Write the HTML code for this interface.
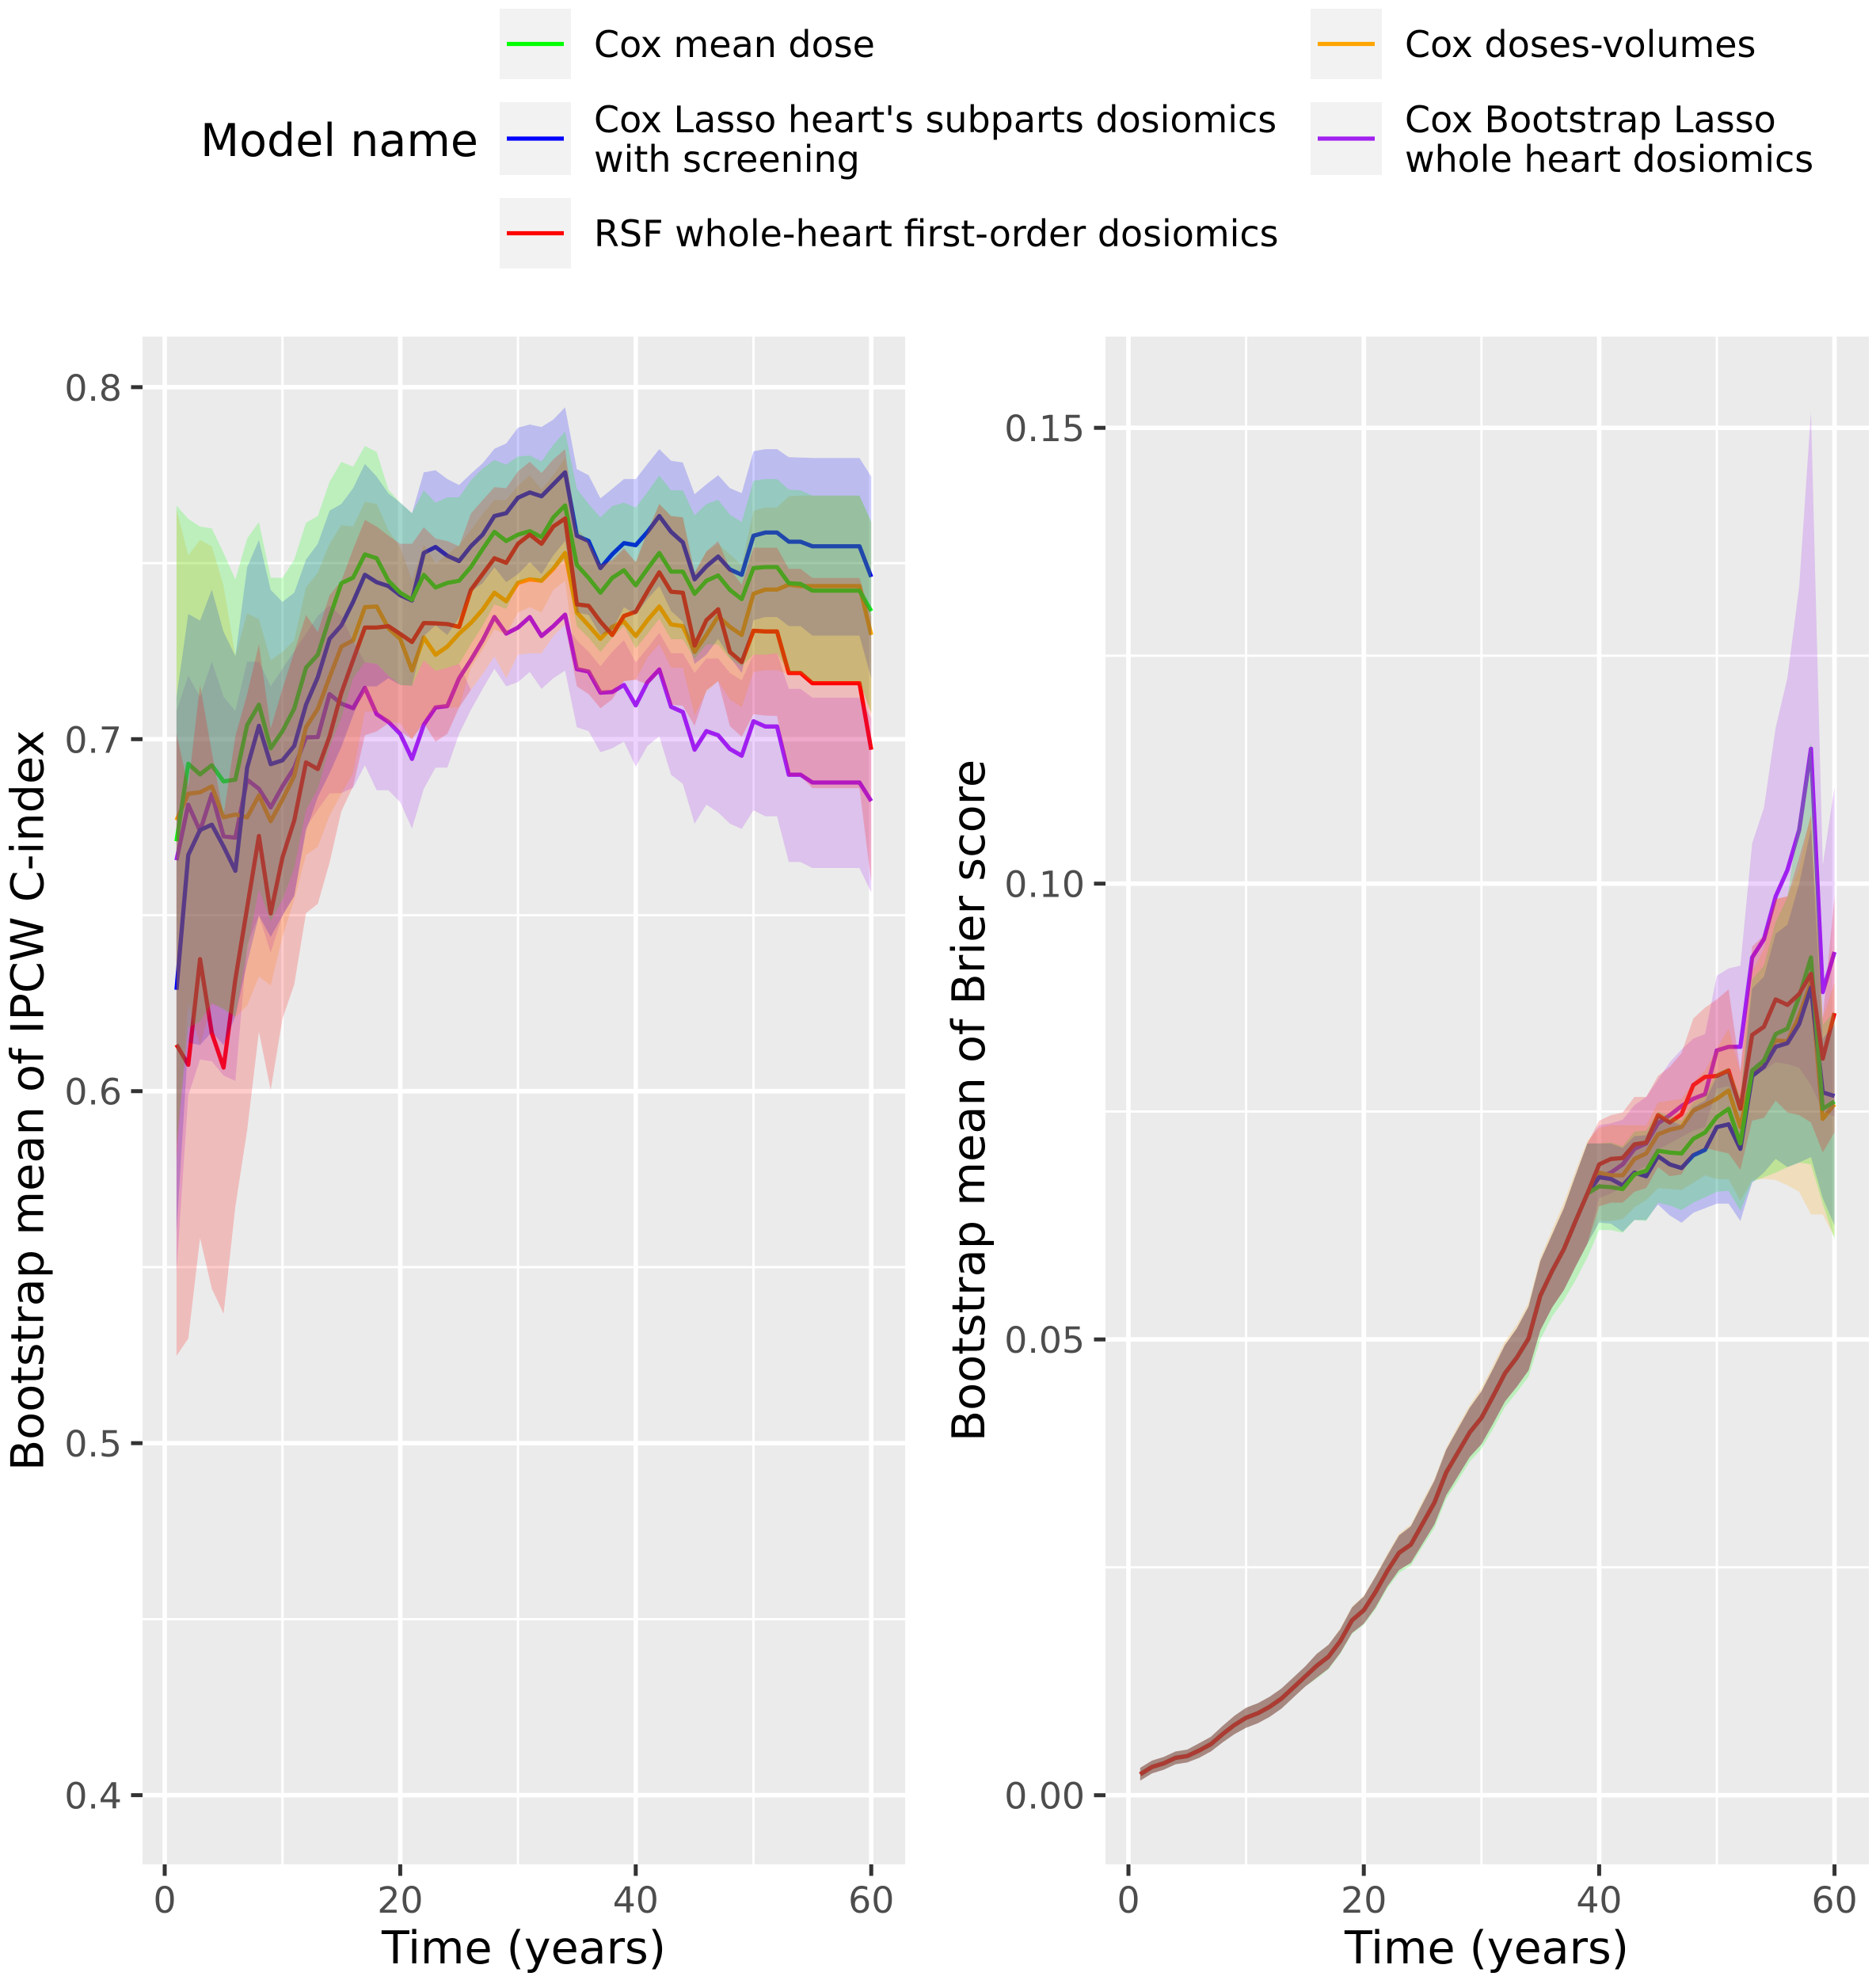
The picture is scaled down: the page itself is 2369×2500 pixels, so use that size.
<!DOCTYPE html>
<html lang="en">
<head>
<meta charset="utf-8">
<title>Bootstrap mean of IPCW C-index and Brier score</title>
<style>
html,body{margin:0;padding:0;background:#fff;width:2369px;height:2500px;overflow:hidden}
svg{display:block;font-family:"DejaVu Sans",sans-serif}
.lg{font-size:45.95px;fill:#000}
.at{font-size:57px;fill:#000}
.yt{font-size:57.3px;fill:#000}
.tk{font-size:45.7px;fill:#4d4d4d}
</style>
</head>
<body>
<svg id="figure" xmlns="http://www.w3.org/2000/svg" width="2369" height="2500" viewBox="0 0 2369 2500">
<rect width="2369" height="2500" fill="#fff"/>
<g>
<text class="lg" x="253" y="197" style="font-size:57px">Model name</text>
<g>
<rect x="631" y="11" width="90" height="89" fill="#f2f2f2"/>
<line x1="640" x2="712" y1="55.5" y2="55.5" stroke="#00ff00" stroke-width="5.3"/>
<text class="lg" x="750" y="72">Cox mean dose</text>
</g>
<g>
<rect x="631" y="129" width="90" height="92" fill="#f2f2f2"/>
<line x1="640" x2="712" y1="175" y2="175" stroke="#0000ff" stroke-width="5.3"/>
<text class="lg" x="750" y="167">Cox Lasso heart's subparts dosiomics</text>
<text class="lg" x="750" y="217">with screening</text>
</g>
<g>
<rect x="631" y="250" width="90" height="89" fill="#f2f2f2"/>
<line x1="640" x2="712" y1="294.5" y2="294.5" stroke="#ff0000" stroke-width="5.3"/>
<text class="lg" x="750" y="311">RSF whole-heart first-order dosiomics</text>
</g>
<g>
<rect x="1655" y="11" width="90" height="89" fill="#f2f2f2"/>
<line x1="1664" x2="1736" y1="55.5" y2="55.5" stroke="#ffa500" stroke-width="5.3"/>
<text class="lg" x="1774" y="72">Cox doses-volumes</text>
</g>
<g>
<rect x="1655" y="129" width="90" height="92" fill="#f2f2f2"/>
<line x1="1664" x2="1736" y1="175" y2="175" stroke="#a020f0" stroke-width="5.3"/>
<text class="lg" x="1774" y="167">Cox Bootstrap Lasso</text>
<text class="lg" x="1774" y="217">whole heart dosiomics</text>
</g>
</g>
<text class="yt" transform="translate(54.5,1389.5) rotate(-90)" text-anchor="middle">Bootstrap mean of IPCW C-index</text>
<text class="yt" transform="translate(1243,1389.5) rotate(-90)" text-anchor="middle">Bootstrap mean of Brier score</text>
<text class="at" x="661.5" y="2479" text-anchor="middle">Time (years)</text>
<text class="at" x="1877.5" y="2479" text-anchor="middle">Time (years)</text>
<g id="left-chart"></g>
<g id="right-chart"></g>
</svg>
<script>
// ---- shared axis data ----
const years = [1,2,3,4,5,6,7,8,9,10,11,12,13,14,15,16,17,18,19,20,21,22,23,24,25,26,27,28,29,30,31,32,33,34,35,36,37,38,39,40,41,42,43,44,45,46,47,48,49,50,51,52,53,54,55,56,57,58,59,60];
const xTicks = [0,20,40,60];
const xMinorTicks = [10,30,50];
const cindexTicks = [0.4,0.5,0.6,0.7,0.8];
const cindexTickLabels = ["0.4","0.5","0.6","0.7","0.8"];
const cindexMinorTicks = [0.45,0.55,0.65,0.75];
const brierTicks = [0,0.05,0.1,0.15];
const brierTickLabels = ["0.00","0.05","0.10","0.15"];
const brierMinorTicks = [0.025,0.075,0.125];

// ---- C-index means ----
const cindexGreen = [.671,.693,.690,.6926,.688,.6885,.704,.7098,.6974,.7023,.7087,.7203,.724,.7345,.7443,.7459,.7525,.7514,.745,.7416,.7396,.7467,.7431,.7444,.745,.7489,.754,.7589,.7563,.7581,.7591,.7574,.763,.7664,.7495,.7458,.7416,.7458,.748,.7437,.7484,.7529,.7476,.7476,.7413,.745,.7465,.7424,.7398,.7486,.7489,.7489,.7443,.7441,.7422,.7422,.7422,.7422,.7422,.7364];
const cindexBlue = [.6288,.6671,.6742,.6757,.6695,.6626,.6919,.7038,.6929,.694,.6981,.7098,.7176,.7285,.7323,.739,.7467,.7446,.7435,.7409,.7394,.7529,.7546,.7521,.7506,.7548,.7581,.7634,.7642,.7686,.7701,.769,.7724,.7758,.7578,.7563,.7486,.7525,.7557,.7551,.7589,.7634,.7589,.7559,.7454,.7491,.7519,.7482,.7467,.7578,.7587,.7587,.7561,.7561,.7548,.7548,.7548,.7548,.7548,.7461];
const cindexOrange = [.677,.6845,.6849,.6866,.6778,.6786,.6778,.684,.6767,.6828,.6896,.7034,.7086,.7176,.7263,.7281,.7375,.7377,.7315,.7285,.7195,.7289,.724,.7263,.73,.733,.7368,.7416,.7392,.7444,.7454,.745,.7484,.7529,.736,.7323,.7285,.7319,.7334,.7293,.7338,.7377,.7326,.7321,.7248,.7296,.7349,.7319,.7296,.7413,.7425,.7425,.7439,.7435,.7435,.7435,.7435,.7435,.7435,.7296];
const cindexRed = [.6132,.6075,.6375,.6165,.6067,.6318,.6521,.6725,.6505,.6664,.6769,.6934,.6915,.7008,.7131,.7225,.7317,.7317,.7321,.7299,.7276,.733,.7329,.7327,.7319,.7424,.7469,.7514,.7501,.7555,.7581,.7555,.7604,.7627,.7383,.7379,.7334,.7296,.735,.7362,.742,.7474,.7419,.7416,.7266,.7338,.7369,.7248,.7219,.7308,.7306,.7306,.7188,.7188,.7159,.7159,.7159,.7159,.7159,.697];
const cindexPurple = [.6656,.6814,.6739,.6844,.6724,.672,.6885,.6859,.6806,.6866,.6919,.7005,.7006,.7128,.7101,.7088,.7146,.7071,.7049,.7015,.6944,.7041,.709,.7094,.7173,.7225,.7281,.7347,.73,.7317,.7347,.7293,.7321,.7354,.7199,.7192,.7132,.7134,.7154,.7096,.7162,.7198,.7092,.7077,.697,.7023,.7011,.6972,.6953,.7051,.7036,.7036,.6899,.6899,.6877,.6877,.6877,.6877,.6877,.6824];
// ---- C-index ribbon bounds ----
const cindexGreenUpper = [.7664,.7626,.7604,.7599,.7529,.7454,.757,.7617,.7459,.7458,.751,.7615,.7634,.7731,.7788,.7774,.7833,.7816,.7709,.7672,.7642,.7707,.7672,.7687,.7687,.7735,.7769,.7793,.778,.7803,.7806,.7789,.7836,.7874,.7711,.7668,.763,.7662,.7672,.7658,.7702,.7749,.7707,.7707,.7636,.7668,.768,.7638,.7617,.7734,.7739,.7739,.7709,.7707,.7692,.7692,.7692,.7692,.7692,.7619];
const cindexGreenLower = [.585,.618,.6198,.6251,.6232,.6213,.6401,.6574,.6483,.6544,.6633,.6799,.6859,.6978,.706,.7173,.7218,.7214,.718,.7154,.7152,.7224,.7194,.7203,.7214,.727,.7323,.7383,.737,.7443,.7458,.7443,.748,.751,.7321,.7288,.7247,.7288,.7321,.7258,.7299,.7342,.7284,.7284,.7228,.7269,.7269,.7228,.7207,.724,.724,.7244,.7191,.7191,.7165,.7165,.7165,.7165,.7165,.7075];
const cindexBlueUpper = [.712,.7356,.7337,.7425,.7305,.7236,.7488,.7566,.7424,.739,.7416,.751,.7555,.7649,.7668,.7713,.7782,.7746,.7698,.7672,.7642,.7758,.7764,.7739,.7722,.7754,.7784,.7825,.784,.7885,.7894,.7887,.7908,.7943,.7767,.775,.7684,.7711,.7739,.7739,.7782,.7824,.7791,.7786,.7696,.7724,.775,.7713,.7699,.7818,.7824,.7824,.7801,.78,.7799,.7799,.7799,.7799,.7799,.7746];
const cindexBlueLower = [.56,.6138,.6131,.6168,.6131,.6213,.6363,.6499,.6438,.6499,.6555,.6739,.6836,.6903,.6978,.7068,.715,.715,.7173,.7154,.7152,.7293,.7323,.7296,.7345,.742,.7443,.7488,.7446,.7469,.7503,.7469,.7522,.7563,.736,.7353,.7296,.7308,.7375,.7353,.7398,.7435,.7364,.7334,.7214,.724,.7285,.7233,.7188,.7338,.7347,.7347,.7321,.7321,.7294,.7294,.7294,.7294,.7294,.7173];
const cindexOrangeUpper = [.7653,.7522,.7566,.7548,.7435,.7236,.7357,.7341,.7224,.7248,.7281,.7431,.7473,.7555,.7608,.7604,.7674,.7668,.7593,.7545,.7451,.7553,.7499,.7525,.7551,.7595,.764,.768,.768,.772,.775,.771,.775,.78,.76,.7563,.7495,.7505,.7539,.7503,.7589,.7668,.7634,.763,.7473,.7533,.7555,.7525,.7495,.7649,.7658,.7658,.769,.7692,.7692,.7692,.7692,.7692,.7692,.7615];
const cindexOrangeLower = [.58,.625,.6131,.6248,.6236,.621,.6243,.6326,.63,.6439,.6544,.6671,.6694,.6783,.6844,.6904,.7079,.7079,.7049,.7045,.7,.7053,.709,.709,.709,.7203,.7255,.7312,.7297,.736,.7375,.736,.7424,.745,.7199,.7192,.7132,.714,.7165,.7169,.7232,.727,.7203,.7203,.7068,.7135,.7165,.7113,.709,.7191,.7196,.7196,.7184,.7184,.7161,.7161,.7161,.7161,.7161,.7073];
const cindexRedUpper = [.7015,.6866,.7154,.6963,.6784,.7008,.7128,.727,.703,.7143,.7248,.7353,.7304,.7409,.745,.754,.7623,.7604,.7578,.7555,.7555,.7602,.757,.7563,.7548,.7641,.7679,.7716,.7713,.7761,.7788,.7756,.7795,.7824,.7585,.7563,.7495,.751,.7543,.7503,.7589,.7668,.7634,.763,.7473,.7533,.7563,.7484,.7439,.7544,.7544,.7544,.7484,.7484,.7458,.7458,.7458,.7458,.7458,.7349];
const cindexRedLower = [.5248,.5297,.5583,.5439,.5368,.5672,.5889,.6169,.6003,.6206,.6303,.6506,.6532,.6649,.6795,.6866,.7011,.7022,.7045,.7022,.7,.7045,.6993,.7015,.709,.714,.7185,.7235,.7173,.724,.7244,.7244,.7293,.7326,.715,.7128,.7088,.7113,.7165,.7169,.7155,.7188,.7098,.7095,.7038,.7139,.7165,.7037,.7007,.7071,.7067,.7066,.6895,.6895,.6861,.6861,.6861,.6861,.6861,.6595];
const cindexPurpleUpper = [.708,.718,.712,.722,.712,.708,.722,.722,.715,.72,.725,.73,.735,.738,.735,.728,.7218,.7214,.718,.7154,.7152,.7224,.7194,.7203,.7214,.714,.7185,.7235,.7173,.724,.7244,.7244,.7293,.7326,.7281,.7248,.7207,.7248,.7281,.7218,.7259,.7302,.7244,.7244,.7188,.7229,.7229,.7188,.7167,.724,.724,.7244,.7143,.7143,.7118,.7118,.7118,.7118,.7118,.706];
const cindexPurpleLower = [.5489,.5988,.609,.6085,.6044,.6029,.6416,.6499,.6394,.6499,.6555,.675,.68,.6846,.6847,.6862,.6926,.6855,.6855,.6821,.6746,.6859,.6919,.6919,.7015,.7083,.7143,.72,.715,.7162,.7191,.7143,.7173,.7195,.7034,.7023,.6963,.6974,.6993,.6922,.6981,.7008,.6899,.6873,.676,.6814,.6792,.676,.6745,.6798,.6781,.6781,.6651,.6651,.6634,.6634,.6634,.6634,.6634,.6565];

// ---- Brier score, years 1-39 (series are nearly identical there) ----
const brierEarly = [.0023,.0031,.0035,.0041,.0043,.0049,.0056,.0067,.0077,.0085,.0090,.0097,.0106,.0118,.0130,.0142,.0152,.0169,.0192,.0203,.0223,.0246,.0266,.0275,.0298,.0321,.0354,.0376,.0398,.0414,.0438,.0463,.0480,.0501,.0548,.0575,.0599,.0630,.0660];
const brierEarlyUpper = [.0030,.0038,.0042,.0048,.0050,.0057,.0064,.0076,.0087,.0096,.0101,.0108,.0117,.0129,.0141,.0155,.0165,.0182,.0206,.0218,.0240,.0263,.0285,.0295,.0320,.0345,.0379,.0402,.0425,.0443,.0468,.0494,.0512,.0536,.0586,.0615,.0644,.0680,.0715];
const brierEarlyLower = [.0016,.0024,.0028,.0034,.0036,.0041,.0048,.0058,.0067,.0074,.0079,.0086,.0095,.0107,.0119,.0129,.0139,.0156,.0178,.0188,.0206,.0229,.0247,.0255,.0276,.0297,.0329,.0350,.0371,.0385,.0408,.0432,.0448,.0466,.0510,.0535,.0554,.0580,.0605];
const brierOrangeEarlyUpper = [.0030,.0038,.0042,.0048,.0050,.0057,.0064,.0076,.0087,.0096,.0101,.0108,.0117,.0129,.0141,.0155,.0165,.0183,.0207,.0219,.0241,.0265,.0287,.0297,.0323,.0347,.0381,.0405,.0428,.0447,.0472,.0498,.0516,.0540,.0590,.0620,.0650,.0685,.0718];
const brierGreenEarlyLower = [.0016,.0024,.0028,.0034,.0036,.0041,.0048,.0058,.0067,.0074,.0079,.0086,.0095,.0107,.0119,.0128,.0138,.0155,.0177,.0187,.0204,.0227,.0244,.0252,.0273,.0293,.0325,.0345,.0366,.0380,.0402,.0426,.0442,.0459,.0500,.0525,.0543,.0565,.0590];
// ---- Brier score, years 40-60 ----
const brierGreenLate = [.0668,.0667,.0665,.0681,.0685,.0707,.0705,.0704,.072,.0727,.0744,.0753,.0715,.0795,.0806,.0835,.0841,.0876,.0919,.0753,.0761];
const brierBlueLate = [.0678,.0676,.0669,.0683,.0679,.0701,.0692,.0688,.0702,.0708,.0733,.0736,.0709,.0789,.0799,.0821,.0825,.0846,.0886,.0771,.0767];
const brierOrangeLate = [.0683,.068,.068,.0698,.0704,.0725,.073,.0733,.0751,.0757,.0764,.0773,.0733,.0793,.0805,.0828,.0827,.0855,.0892,.0742,.0758];
const brierRedLate = [.0692,.0698,.0699,.0714,.0716,.0746,.0738,.0747,.0779,.0788,.0789,.0795,.0753,.0834,.0843,.0873,.0867,.0879,.0901,.0808,.0858];
const brierPurpleLate = [.0678,.0683,.0692,.0709,.0715,.0737,.0746,.0756,.0764,.0769,.0817,.0821,.0821,.0919,.0939,.0986,.1015,.1059,.1148,.0881,.0925];
const brierGreenUpperLate = [.0715,.0716,.0712,.0728,.0729,.075,.0745,.074,.076,.0767,.0793,.0798,.0767,.0895,.091,.0958,.0985,.1074,.1156,.0845,.086];
const brierBlueUpperLate = [.0715,.0715,.071,.0723,.0724,.0745,.074,.0735,.0755,.0762,.0788,.0793,.0762,.0885,.0898,.0945,.0955,.1,.106,.083,.0845];
const brierOrangeUpperLate = [.0732,.0735,.0735,.0735,.0735,.076,.0762,.0764,.0782,.0795,.0819,.0841,.0793,.0904,.0928,.0983,.0986,.1017,.1077,.0852,.0892];
const brierRedUpperLate = [.074,.0746,.0749,.0766,.0766,.0789,.0799,.0814,.0852,.0864,.0873,.0884,.0794,.0931,.0943,.0983,.0986,.1029,.1074,.0852,.0986];
const brierPurpleUpperLate = [.0735,.0737,.0741,.0757,.0766,.0785,.0804,.0818,.083,.0835,.0899,.0907,.091,.1044,.1083,.1171,.1226,.1326,.1518,.102,.1106];
const brierGreenLowerLate = [.062,.062,.0617,.0631,.063,.065,.0647,.0642,.065,.0656,.0662,.0663,.0641,.0673,.0678,.0683,.0689,.0694,.0692,.0649,.061];
const brierBlueLowerLate = [.0628,.0627,.0618,.0631,.0631,.0648,.0636,.0628,.0639,.0644,.0649,.0649,.063,.0672,.0683,.0698,.0689,.0694,.07,.0655,.0625];
const brierOrangeLowerLate = [.063,.063,.0632,.0645,.0653,.0666,.0665,.0664,.0672,.068,.0676,.0676,.0652,.0675,.0676,.0675,.0669,.0662,.0637,.0637,.0612];
const brierRedLowerLate = [.0646,.065,.065,.0662,.0666,.0689,.0679,.0681,.0704,.071,.0707,.0704,.0686,.074,.0743,.0762,.0749,.0746,.0738,.0705,.0727];
const brierPurpleLowerLate = [.0655,.066,.0668,.0684,.069,.0708,.0715,.0722,.0729,.0733,.0775,.0778,.0755,.0792,.0795,.0804,.0802,.0798,.0779,.0751,.0744];

const SVGNS = "http://www.w3.org/2000/svg";
const colors = {green:"#00ff00",blue:"#0000ff",orange:"#ffa500",red:"#ff0000",purple:"#a020f0"};
const drawOrder = ["purple","orange","blue","green","red"];

const cindexSeries = {
  green:{mean:cindexGreen,upper:cindexGreenUpper,lower:cindexGreenLower},
  blue:{mean:cindexBlue,upper:cindexBlueUpper,lower:cindexBlueLower},
  orange:{mean:cindexOrange,upper:cindexOrangeUpper,lower:cindexOrangeLower},
  red:{mean:cindexRed,upper:cindexRedUpper,lower:cindexRedLower},
  purple:{mean:cindexPurple,upper:cindexPurpleUpper,lower:cindexPurpleLower}
};
const brierSeries = {
  green:{mean:brierEarly.concat(brierGreenLate),upper:brierEarlyUpper.concat(brierGreenUpperLate),lower:brierGreenEarlyLower.concat(brierGreenLowerLate)},
  blue:{mean:brierEarly.concat(brierBlueLate),upper:brierEarlyUpper.concat(brierBlueUpperLate),lower:brierEarlyLower.concat(brierBlueLowerLate)},
  orange:{mean:brierEarly.concat(brierOrangeLate),upper:brierOrangeEarlyUpper.concat(brierOrangeUpperLate),lower:brierEarlyLower.concat(brierOrangeLowerLate)},
  red:{mean:brierEarly.concat(brierRedLate),upper:brierEarlyUpper.concat(brierRedUpperLate),lower:brierEarlyLower.concat(brierRedLowerLate)},
  purple:{mean:brierEarly.concat(brierPurpleLate),upper:brierEarlyUpper.concat(brierPurpleUpperLate),lower:brierEarlyLower.concat(brierPurpleLowerLate)}
};

function make(parent, tag, attrs){
  const el = document.createElementNS(SVGNS, tag);
  for (const k in attrs) el.setAttribute(k, attrs[k]);
  parent.appendChild(el);
  return el;
}

function drawPanel(cfg){
  const g = document.getElementById(cfg.id);
  const xs = t => cfg.x0 + cfg.xPerUnit * t;
  const ys = v => cfg.y0 - cfg.yPerUnit * (v - cfg.yBase);

  const bg = make(g, "rect", {x:cfg.left, y:cfg.top, width:cfg.right-cfg.left, height:cfg.bottom-cfg.top, fill:"#ebebeb"});
  
  

  cfg.yMinor.forEach(v => {
    const el = make(g, "line", {x1:cfg.left, x2:cfg.right, y1:ys(v), y2:ys(v), stroke:"#fff", "stroke-width":2.85});
    
    
  });
  xMinorTicks.forEach(t => {
    const el = make(g, "line", {x1:xs(t), x2:xs(t), y1:cfg.top, y2:cfg.bottom, stroke:"#fff", "stroke-width":2.85});
    
    
  });
  cfg.yTicks.forEach(v => {
    const el = make(g, "line", {x1:cfg.left, x2:cfg.right, y1:ys(v), y2:ys(v), stroke:"#fff", "stroke-width":5.7});
    
    
  });
  xTicks.forEach(t => {
    const el = make(g, "line", {x1:xs(t), x2:xs(t), y1:cfg.top, y2:cfg.bottom, stroke:"#fff", "stroke-width":5.7});
    
    
  });

  drawOrder.forEach(name => {
    const s = cfg.series[name];
    const d = years.map((t,i) => (i?"L":"M") + xs(t).toFixed(2) + " " + ys(s.mean[i]).toFixed(2)).join("");
    const el = make(g, "path", {d:d, fill:"none", stroke:colors[name], "stroke-width":5.3, "stroke-linejoin":"round", "stroke-linecap":"butt"});
    
    
  });
  drawOrder.forEach(name => {
    const s = cfg.series[name];
    const up = years.map((t,i) => xs(t).toFixed(2) + " " + ys(s.upper[i]).toFixed(2));
    const lo = years.map((t,i) => xs(t).toFixed(2) + " " + ys(s.lower[i]).toFixed(2)).reverse();
    const el = make(g, "path", {d:"M" + up.concat(lo).join("L") + "Z", fill:colors[name], "fill-opacity":0.2, stroke:"none"});
    
    
  });

  cfg.yTicks.forEach((v,i) => {
    const tk = make(g, "line", {x1:cfg.left-14.5, x2:cfg.left, y1:ys(v), y2:ys(v), stroke:"#333", "stroke-width":5});
    
    
    const lb = make(g, "text", {x:cfg.left-26, y:ys(v)+17, "text-anchor":"end", "class":"tk"});
    
    
    lb.textContent = cfg.yLabels[i];
  });
  xTicks.forEach(t => {
    const tk = make(g, "line", {x1:xs(t), x2:xs(t), y1:cfg.bottom, y2:cfg.bottom+14.5, stroke:"#333", "stroke-width":5});
    
    
    const lb = make(g, "text", {x:xs(t), y:2415, "text-anchor":"middle", "class":"tk"});
    
    
    lb.textContent = String(t);
  });
}

drawPanel({id:"left-chart", left:180, right:1143, top:425, bottom:2354, x0:208, xPerUnit:14.87, y0:933.3, yBase:0.7, yPerUnit:4444.4,
  yTicks:cindexTicks, yLabels:cindexTickLabels, yMinor:cindexMinorTicks, series:cindexSeries});
drawPanel({id:"right-chart", left:1396, right:2360, top:425, bottom:2354, x0:1425, xPerUnit:14.86, y0:2266.7, yBase:0, yPerUnit:11510,
  yTicks:brierTicks, yLabels:brierTickLabels, yMinor:brierMinorTicks, series:brierSeries});
</script>
</body>
</html>
